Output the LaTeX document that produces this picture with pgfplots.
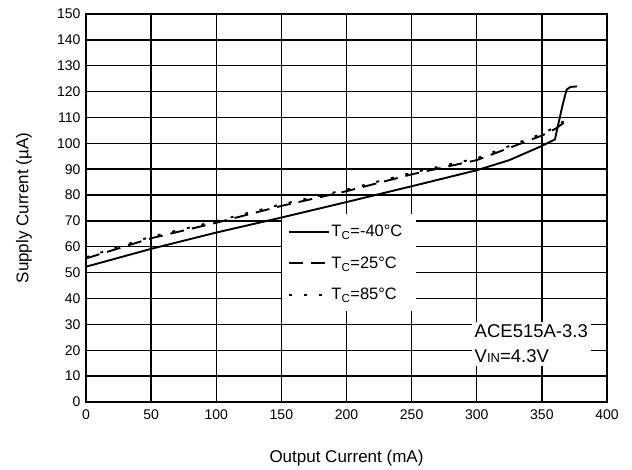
\documentclass[border=0pt]{standalone}
\usepackage{pgfplots}
\pgfplotsset{compat=1.18}
\usepackage{fontspec}
\setmainfont{Liberation Sans}
\begin{document}
\begin{tikzpicture}
\begin{axis}[
  name=ax,
  scale only axis,
  width=521pt, height=388pt,
  xmin=0, xmax=400, ymin=0, ymax=150,
  xtick={0,50,...,400}, ytick={0,10,...,150},
  grid=major,
  major grid style={black, line width=1.4pt},
  axis line style={black, line width=1.6pt},
  major tick length=0pt,
  /pgf/number format/assume math mode=true,
  tick label style={font=\fontsize{14}{14}\selectfont},
  xticklabel style={yshift=-4pt},
  yticklabel style={xshift=-2pt},
  xlabel={Output Current (mA)},
  ylabel={Supply Current (µA)},
  label style={font=\fontsize{17}{17}\selectfont},
  xlabel style={at={(axis description cs:0.5,0)}, anchor=center, yshift=-56pt},
  ylabel style={at={(axis description cs:-0.119,0.5)}, anchor=center},
  legend style={at={(axis cs:150,73)}, anchor=north west, draw=none, fill=none,
    font=\fontsize{16.5}{16.5}\selectfont, inner xsep=6pt, inner ysep=10pt, row sep=14.5pt},
  legend cell align=left,
  legend image code/.code={\draw[#1] (0pt,0pt) -- (40pt,0pt);},
]
\fill[white] (axis cs:150.6,35.3) rectangle (axis cs:253.5,72.6);
\addplot[black, line width=1.9pt] coordinates {
 (0,52.3) (50,59.2) (100,65.5) (150,71.3) (200,77.3) (250,83.4) (300,89.6)
 (325,93.5) (350,99) (360,101.5) (366,115) (369,120.8) (372,121.8) (377,122)};
\addlegendentry{T\textsubscript{C}=-40°C}
\addplot[black, line width=1.9pt, dash pattern=on 14pt off 8pt] coordinates {
 (0,55.5) (50,63.3) (100,69.3) (150,75.8) (200,81.5) (250,88) (300,93.5)
 (350,103) (360,105.5) (367,108) (370,110)};
\addlegendentry{T\textsubscript{C}=25°C}
\addplot[black, line width=1.9pt, dash pattern=on 3pt off 12pt] coordinates {
 (0,56) (50,63.9) (100,69.9) (150,76.4) (200,82.1) (250,88.6) (300,94.2)
 (350,103.7) (360,106.2) (368,109) (371,111)};
\addlegendentry{T\textsubscript{C}=85°C}
\node[fill=white, anchor=north west, inner sep=3pt, align=left,
  font=\fontsize{18.5}{25}\selectfont] at (axis cs:296,31)
  {ACE515A-3.3\\V{\fontsize{13}{13}\selectfont IN}=4.3V};
\end{axis}
\path (ax.south west) ++(-86pt,-68pt) rectangle ++(632pt,470pt);
\end{tikzpicture}
\end{document}
